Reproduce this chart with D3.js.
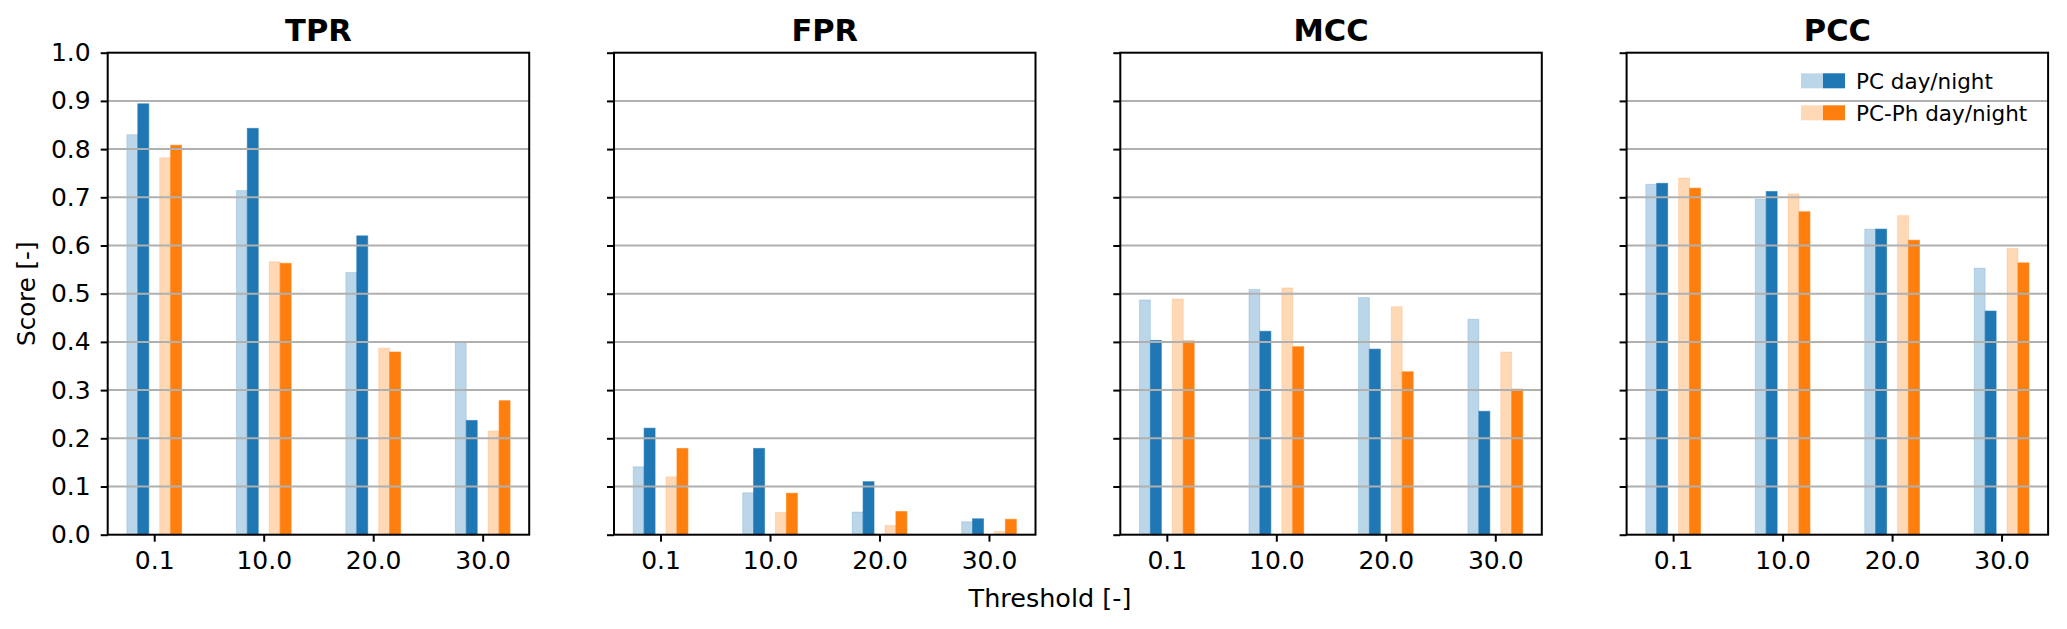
<!DOCTYPE html>
<html>
<head>
<meta charset="utf-8">
<script src="https://cdn.jsdelivr.net/npm/d3@7"></script>
<style>
  body { margin: 0; background: #fff; }
  text { font-family: "DejaVu Sans", sans-serif; fill: #000; }
</style>
</head>
<body>
<script>
//thresholds on the x axis
var thresholds = ["0.1", "10.0", "20.0", "30.0"];
//one panel per metric
var metrics = ["TPR", "FPR", "MCC", "PCC"];
var yTicks = [0, 0.1, 0.2, 0.3, 0.4, 0.5, 0.6, 0.7, 0.8, 0.9, 1.0];

//series values, one row per metric (TPR, FPR, MCC, PCC)
var pcDay = [
    [0.830, 0.714, 0.544, 0.400],
    [0.141, 0.087, 0.047, 0.027],
    [0.487, 0.509, 0.492, 0.447],
    [0.727, 0.696, 0.634, 0.553]
];
var pcNight = [
    [0.894, 0.843, 0.620, 0.237],
    [0.221, 0.179, 0.110, 0.033],
    [0.403, 0.422, 0.385, 0.256],
    [0.729, 0.712, 0.634, 0.464]
];
var phDay = [
    [0.782, 0.566, 0.387, 0.215],
    [0.120, 0.046, 0.019, 0.007],
    [0.489, 0.512, 0.473, 0.379],
    [0.740, 0.707, 0.662, 0.594]
];
var phNight = [
    [0.808, 0.563, 0.379, 0.278],
    [0.179, 0.086, 0.048, 0.032],
    [0.402, 0.390, 0.338, 0.302],
    [0.719, 0.670, 0.611, 0.564]
];
var legendLabels = ["PC day/night", "PC-Ph day/night"];

window.onload = function(){
    var w = 2067, h = 629;
    var svg = d3.select("body")
        .append("svg")
        .attr("width", w)
        .attr("height", h);

    //series: values, offset from category centre, colour
    var series = [
        {vals: pcDay,   off: -0.2, color: "#1f77b4", alpha: 0.3},
        {vals: pcNight, off: -0.1, color: "#1f77b4", alpha: 1},
        {vals: phDay,   off: 0.1,  color: "#ff7f0e", alpha: 0.3},
        {vals: phNight, off: 0.2,  color: "#ff7f0e", alpha: 1}
    ];
    var barW = 0.1;

    var top = 52.7, bottom = 534.7;
    var panelW = 421.5, firstLeft = 107.7, step = 506.3;

    var y = d3.scaleLinear().domain([0, 1]).range([bottom, top]);

    metrics.forEach(function(m, mi){
        var left = firstLeft + mi * step;
        var x = d3.scaleLinear()
            .domain([-0.425, 3.425])
            .range([left, left + panelW]);

        var g = svg.append("g").attr("class", "panel");

        //bars
        series.forEach(function(s){
            g.selectAll(null)
                .data(s.vals[mi])
                .enter()
                .append("rect")
                .attr("x", function(d, i){ return x(i + s.off - barW / 2); })
                .attr("width", function(){ return x(barW) - x(0); })
                .attr("y", function(d){ return y(d); })
                .attr("height", function(d){ return y(0) - y(d); })
                .style("fill", s.color)
                .style("fill-opacity", s.alpha)
                .style("stroke", s.color)
                .style("stroke-opacity", s.alpha * 0.6)
                .style("stroke-width", 1);
        });

        //horizontal grid, drawn over the bars like in the original
        g.selectAll(".grid")
            .data(yTicks.slice(1, -1))
            .enter()
            .append("line")
            .attr("x1", left)
            .attr("x2", left + panelW)
            .attr("y1", function(d){ return y(d); })
            .attr("y2", function(d){ return y(d); })
            .style("stroke", "#b0b0b0")
            .style("stroke-width", 2);

        //y axis, labels only on the first panel
        var yAxis = d3.axisLeft(y)
            .tickValues(yTicks)
            .tickSize(7)
            .tickPadding(10)
            .tickFormat(mi === 0 ? d3.format(".1f") : function(){ return ""; });
        var ya = g.append("g")
            .attr("transform", "translate(" + left + ",0)")
            .call(yAxis);
        ya.select(".domain").remove();
        ya.selectAll("line").style("stroke", "#000").style("stroke-width", 2);
        ya.selectAll("text")
            .style("font-size", "25px")
            .style("font-family", "DejaVu Sans, sans-serif");

        //x axis
        var xAxis = d3.axisBottom(x)
            .tickValues([0, 1, 2, 3])
            .tickSize(7)
            .tickPadding(10)
            .tickFormat(function(d){ return thresholds[d]; });
        var xa = g.append("g")
            .attr("transform", "translate(0," + bottom + ")")
            .call(xAxis);
        xa.select(".domain").remove();
        xa.selectAll("line").style("stroke", "#000").style("stroke-width", 2);
        xa.selectAll("text")
            .style("font-size", "25px")
            .style("font-family", "DejaVu Sans, sans-serif");

        //frame
        g.append("rect")
            .attr("x", left)
            .attr("y", top)
            .attr("width", panelW)
            .attr("height", bottom - top)
            .style("fill", "none")
            .style("stroke", "#000")
            .style("stroke-width", 2);

        //title
        g.append("text")
            .attr("x", left + panelW / 2)
            .attr("y", 40.7)
            .attr("text-anchor", "middle")
            .style("font-size", "30.5px")
            .style("font-weight", "bold")
            .text(m);
    });

    //legend in the last panel
    var legend = svg.append("g").attr("class", "legend");
    var legendColors = ["#1f77b4", "#ff7f0e"];
    legendLabels.forEach(function(lab, i){
        var ly = 73.3 + i * 32;
        legend.append("rect")
            .attr("x", 1801).attr("y", ly)
            .attr("width", 22).attr("height", 15)
            .style("fill", legendColors[i]).style("fill-opacity", 0.3);
        legend.append("rect")
            .attr("x", 1823).attr("y", ly)
            .attr("width", 22).attr("height", 15)
            .style("fill", legendColors[i]);
        legend.append("text")
            .attr("x", 1856)
            .attr("y", ly + 15.5)
            .style("font-size", "21.5px")
            .text(lab);
    });

    //axis labels
    svg.append("text")
        .attr("x", 1050)
        .attr("y", 607)
        .attr("text-anchor", "middle")
        .style("font-size", "25.5px")
        .text("Threshold [-]");

    svg.append("text")
        .attr("transform", "translate(35," + ((top + bottom) / 2) + ") rotate(-90)")
        .attr("text-anchor", "middle")
        .style("font-size", "24.5px")
        .text("Score [-]");
};
</script>
</body>
</html>
